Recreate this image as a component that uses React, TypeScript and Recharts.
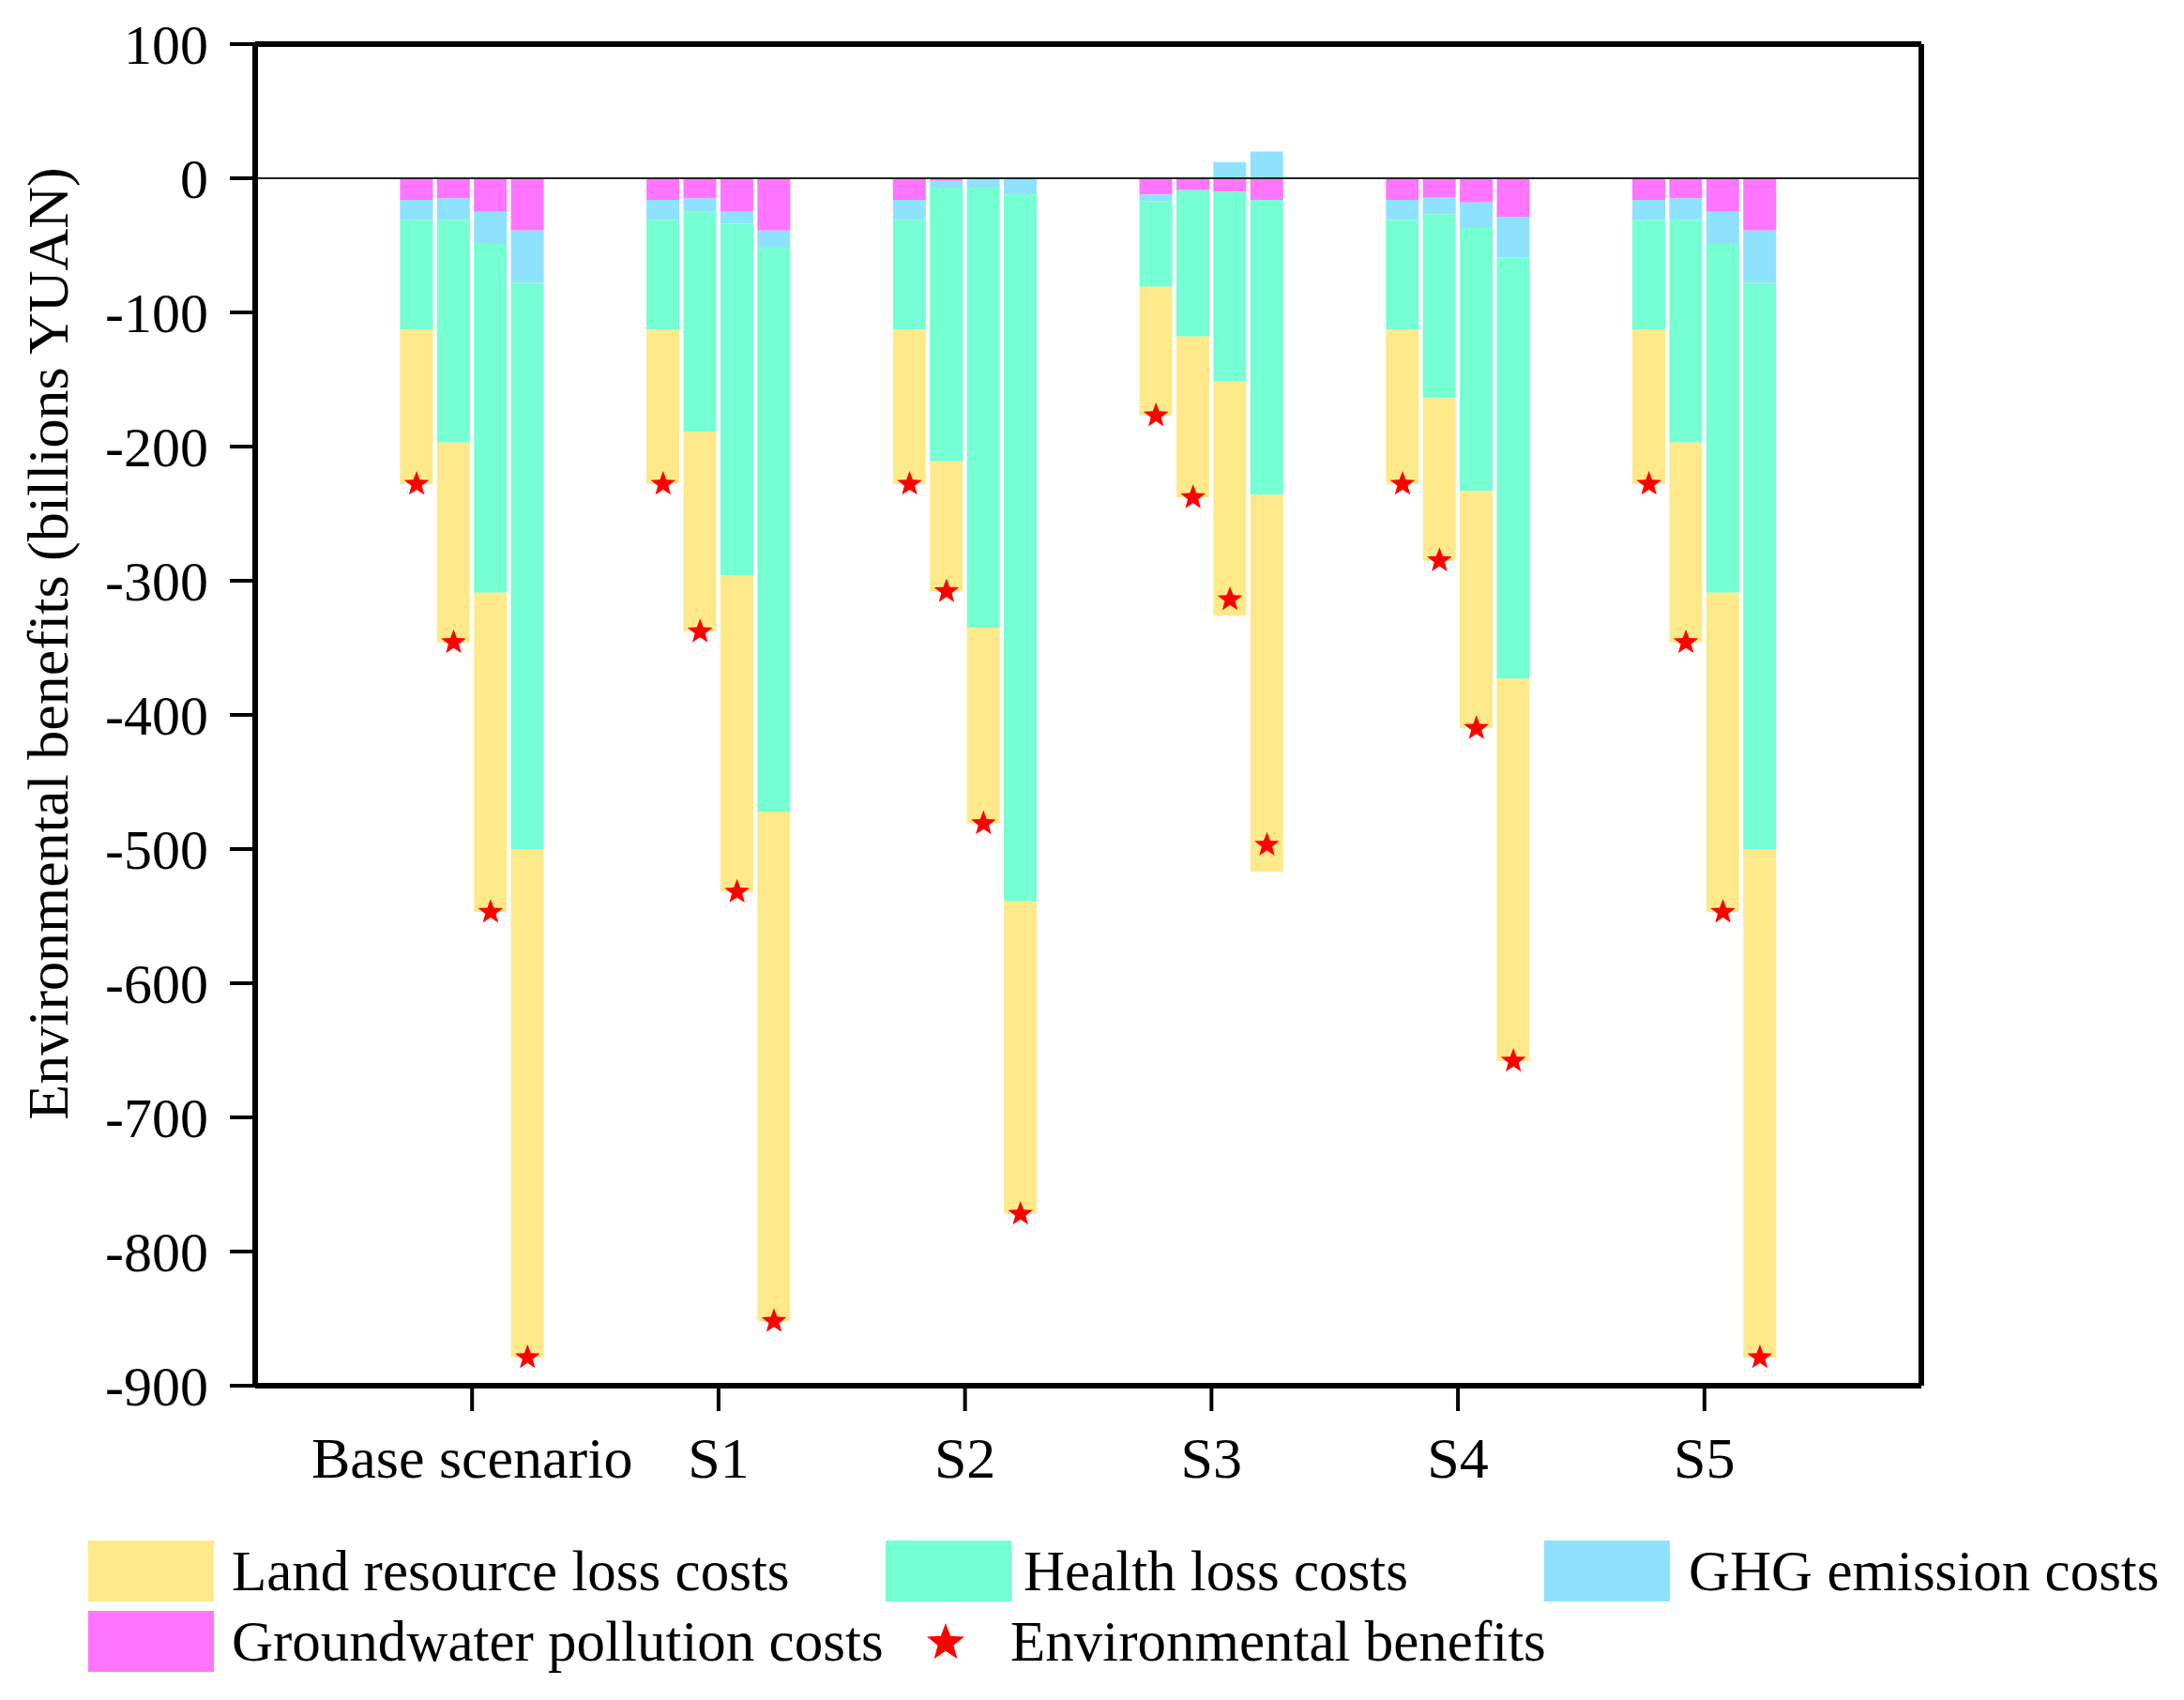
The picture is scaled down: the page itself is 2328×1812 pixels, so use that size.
import { Bar, ComposedChart, Label, ReferenceLine, Scatter, XAxis, YAxis } from 'recharts'

const scenarios = ['Base scenario', 'S1', 'S2', 'S3', 'S4', 'S5']

// four bars per scenario, values in billions YUAN (negative = cost)
const groundwaterCosts = [
    [-16, -15, -25, -39],
    [-16, -15, -25, -39],
    [-16, -2, 0, 0],
    [-12, -9, -10, -16],
    [-16, -14, -18, -29],
    [-16, -15, -25, -39],
]
const ghgCosts = [
    [-15, -16, -24, -39],
    [-15, -10, -9, -12],
    [-15, -5, -7, -12],
    [-5, 0, 12, 20],
    [-15, -13, -19, -30],
    [-15, -16, -24, -39],
]
const healthCosts = [
    [-82, -166, -260, -422],
    [-82, -164, -262, -421],
    [-82, -204, -328, -527],
    [-64, -109, -141, -220],
    [-82, -137, -196, -314],
    [-82, -166, -260, -422],
]
const landCosts = [
    [-115, -149, -238, -379],
    [-115, -149, -236, -380],
    [-115, -97, -146, -233],
    [-96, -120, -175, -281],
    [-115, -121, -177, -285],
    [-115, -149, -238, -379],
]
const envBenefits = [
    [-228, -346, -547, -879],
    [-228, -338, -532, -852],
    [-228, -308, -481, -772],
    [-177, -238, -314, -497],
    [-228, -285, -410, -658],
    [-228, -346, -547, -879],
]
const yTicks = [100, 0, -100, -200, -300, -400, -500, -600, -700, -800, -900]

const X_DOMAIN = [-0.88, 5.88]
const SUB_STEP = 0.15

type Row = { x: number, gw: number, ghg: number, health: number, land: number, benefit: number }

function buildRows(): Row[] {
    const rows: Row[] = []
    scenarios.forEach((_, i) => {
        for (let j = 0; j < 4; j++) {
            rows.push({
                x: i + (j - 1.5) * SUB_STEP,
                gw: groundwaterCosts[i][j],
                ghg: ghgCosts[i][j],
                health: healthCosts[i][j],
                land: landCosts[i][j],
                benefit: envBenefits[i][j],
            })
        }
    })
    return rows
}

const FONT = "'Liberation Serif', 'Times New Roman', serif"
const COLORS = {
    land: '#FEE98A',
    health: '#75FFD2',
    ghg: '#8EE2FE',
    gw: '#FF75FF',
    star: '#FF0000',
}

function starPoints(cx: number, cy: number, r: number) {
    const pts: string[] = []
    for (let k = 0; k < 10; k++) {
        const rad = k % 2 === 0 ? r : r * 0.42
        const a = -Math.PI / 2 + (k * Math.PI) / 5
        pts.push(`${cx + rad * Math.cos(a)},${cy + rad * Math.sin(a)}`)
    }
    return pts.join(' ')
}

const StarShape = (props: any) => {
    const { cx, cy } = props
    if (cx == null || cy == null) return null
    return <polygon points={starPoints(cx, cy, 14)} fill={COLORS.star} />
}

const YTitle = (props: any) => {
    const vb = props.viewBox
    const x = vb.x + 64
    const y = vb.y + vb.height / 2 - 76
    return (
        <text x={x} y={y} transform={`rotate(-90, ${x}, ${y})`} textAnchor='middle'
            fontSize={62} fontFamily={FONT} fill='#000'>
            Environmental benefits (billions YUAN)
        </text>
    )
}

const Swatch = ({ left, top, color }: { left: number, top: number, color: string }) =>
    <div style={{ position: 'absolute', left, top, width: 134, height: 65, background: color }} />

const LegendText = ({ left, top, text }: { left: number, top: number, text: string }) =>
    <div style={{ position: 'absolute', left, top, height: 65, lineHeight: '65px', fontSize: 61, fontFamily: FONT, color: '#000', whiteSpace: 'nowrap' }}>{text}</div>

const axisLine = { stroke: '#000', strokeWidth: 6 }
const tickLine = { stroke: '#000', strokeWidth: 4 }
const yTickStyle = { fontSize: 60, fontFamily: FONT, fill: '#000' }
const xTickStyle = { fontSize: 62, fontFamily: FONT, fill: '#000' }

const App = () => {
    const rows = buildRows()

    return (
        <div style={{ position: 'relative', width: 2312, height: 1796 }}>
            <ComposedChart width={2312} height={1796} data={rows} stackOffset='sign'
                margin={{ top: 39, right: 272, bottom: 0, left: 0 }}>
                <XAxis dataKey='x' type='number' domain={X_DOMAIN} ticks={[0, 1, 2, 3, 4, 5]}
                    tickFormatter={(v: number) => scenarios[v]} interval={0} allowDataOverflow
                    height={327} axisLine={axisLine} tickLine={tickLine} tickSize={27} tickMargin={27}
                    tick={xTickStyle} />
                <YAxis type='number' domain={[-900, 100]} ticks={yTicks} interval={0} width={264}
                    axisLine={axisLine} tickLine={tickLine} tickSize={27} tickMargin={23} tick={yTickStyle}
                    label={<Label content={YTitle} />} />
                <Bar dataKey='gw' stackId='s' fill={COLORS.gw} barSize={35} isAnimationActive={false} />
                <Bar dataKey='ghg' stackId='s' fill={COLORS.ghg} barSize={35} isAnimationActive={false} />
                <Bar dataKey='health' stackId='s' fill={COLORS.health} barSize={35} isAnimationActive={false} />
                <Bar dataKey='land' stackId='s' fill={COLORS.land} barSize={35} isAnimationActive={false} />
                <ReferenceLine y={0} stroke='#222' strokeWidth={2} />
                {/* frame: top and right edges */}
                <ReferenceLine y={100} stroke='#000' strokeWidth={6} ifOverflow='visible' />
                <ReferenceLine x={X_DOMAIN[1]} stroke='#000' strokeWidth={6} ifOverflow='visible' />
                <Scatter dataKey='benefit' shape={StarShape} isAnimationActive={false} />
            </ComposedChart>

            <Swatch left={86} top={1634} color={COLORS.land} />
            <LegendText left={239} top={1634} text='Land resource loss costs' />
            <Swatch left={936} top={1634} color={COLORS.health} />
            <LegendText left={1083} top={1634} text='Health loss costs' />
            <Swatch left={1638} top={1634} color={COLORS.ghg} />
            <LegendText left={1792} top={1634} text='GHG emission costs' />

            <Swatch left={86} top={1709} color={COLORS.gw} />
            <LegendText left={239} top={1709} text='Groundwater pollution costs' />
            <svg style={{ position: 'absolute', left: 977, top: 1719 }} width={46} height={46}>
                <polygon points={starPoints(23, 24, 21)} fill={COLORS.star} />
            </svg>
            <LegendText left={1069} top={1709} text='Environmental benefits' />
        </div>
    )
}

export default App
